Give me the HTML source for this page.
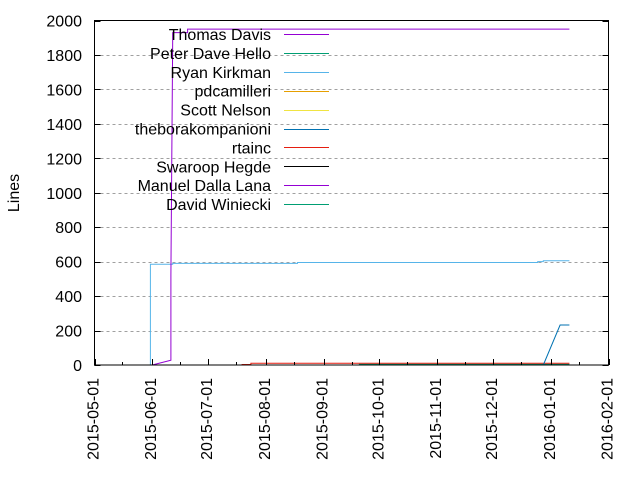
<!DOCTYPE html>
<html><head><meta charset="utf-8"><style>
body{margin:0;background:#fff}
svg{display:block;font-family:"Liberation Sans",sans-serif}
</style></head><body>
<svg id="chart" width="640" height="480" viewBox="0 0 640 480" xmlns="http://www.w3.org/2000/svg">
<g id="grid"></g>
<g id="series"></g>
<rect x="94.5" y="20.5" width="514" height="344.5" fill="none" stroke="#000" stroke-width="1"/>
<g id="axes"></g>
<g id="legend"></g>
<text x="19" y="193" font-size="16" text-anchor="middle" transform="rotate(-90 19 193)">Lines</text>
</svg>
<script>
const yTicks=[0,200,400,600,800,1000,1200,1400,1600,1800,2000];
const xTickLabels=["2015-05-01","2015-06-01","2015-07-01","2015-08-01","2015-09-01","2015-10-01","2015-11-01","2015-12-01","2016-01-01","2016-02-01"];
const seriesNames=["Thomas Davis","Peter Dave Hello","Ryan Kirkman","pdcamilleri","Scott Nelson","theborakompanioni","rtainc","Swaroop Hegde","Manuel Dalla Lana","David Winiecki"];
const seriesColors=["#9400d3","#009e73","#56b4e9","#e69f00","#f0e442","#0072b2","#e51e10","#000000","#9400d3","#009e73"];
const ryanDates=["2015-05-31","2015-05-31","2015-06-12","2015-06-12","2015-08-18","2015-08-18","2015-12-25","2015-12-25","2015-12-28","2015-12-28","2016-01-11"];
const ryanValues=[0,585,585,590,590,595,595,600,600,605,605];
const thomasDates=["2015-06-01","2015-06-11","2015-06-11","2015-06-12","2015-06-12","2015-06-20","2015-06-20","2016-01-11"];
const thomasValues=[0,28,525,1900,1930,1930,1950,1950];
const rtaincDates=["2015-07-19","2015-07-24","2015-07-24","2016-01-11"];
const rtaincValues=[3,3,10,10];
const davidDates=["2015-09-20","2016-01-11"];
const davidValues=[4,4];
const boraDates=["2015-12-28","2016-01-06","2016-01-11"];
const boraValues=[0,232,232];

const X0=94.5,X1=608.5,Y0=365,Y1=20.5;
const D0=Date.UTC(2015,4,1),D1=Date.UTC(2016,1,1);
function dayMs(s){const p=s.split("-");return Date.UTC(+p[0],+p[1]-1,+p[2]);}
function xs(s){return X0+(dayMs(s)-D0)/(D1-D0)*(X1-X0);}
function ys(v){return Y0-(v/2000)*(Y0-Y1);}
const NS="http://www.w3.org/2000/svg";
function mk(tag,attrs,parent){const e=document.createElementNS(NS,tag);for(const k in attrs)e.setAttribute(k,attrs[k]);parent.appendChild(e);return e;}
const grid=document.getElementById("grid"),axes=document.getElementById("axes"),ser=document.getElementById("series"),leg=document.getElementById("legend");
yTicks.forEach(v=>{const y=Math.round(ys(v))+0.5;
 if(v>0&&v<2000){const g=mk("line",{x1:X0,x2:X1,y1:y,y2:y,stroke:"#a0a0a0","stroke-dasharray":"3,3"},grid);
 
 }
 const t1=mk("line",{x1:X0,x2:X0+6,y1:y,y2:y,stroke:"#000"},axes);
 
 
 const t2=mk("line",{x1:X1-6,x2:X1,y1:y,y2:y,stroke:"#000"},axes);
 
 
 const l=mk("text",{x:82,y:ys(v)+6,"font-size":16,"text-anchor":"end"},axes);l.textContent=v;
 
 
});
xTickLabels.forEach((s,i)=>{const x=Math.round(xs(s))+0.5;
 const t=mk("line",{x1:x,x2:x,y1:Y0,y2:Y0-6,stroke:"#000"},axes);
 
 
 if(i<xTickLabels.length-1){const p=s.split("-");const mid=p[0]+"-"+p[1]+"-16";const xm=Math.round(xs(mid))+0.5;
  const m=mk("line",{x1:xm,x2:xm,y1:Y0,y2:Y0-3,stroke:"#000"},axes);
  
  }
 const lx=xs(s)+4,ly=Y0+13;
 const l=mk("text",{x:lx,y:ly,"font-size":16,"text-anchor":"end",transform:`rotate(-90 ${lx} ${ly})`},axes);l.textContent=s;
 
 
});
function line(dates,vals,color,name){const pts=dates.map((d,i)=>xs(d).toFixed(1)+","+ys(vals[i]).toFixed(1)).join(" ");
 const p=mk("polyline",{points:pts,fill:"none",stroke:color,"stroke-width":1},ser);
 
 }
line(davidDates,davidValues,seriesColors[9],"series-david-winiecki");
line(rtaincDates,rtaincValues,seriesColors[6],"series-rtainc");
line(boraDates,boraValues,seriesColors[5],"series-theborakompanioni");
line(ryanDates,ryanValues,seriesColors[2],"series-ryan-kirkman");
line(thomasDates,thomasValues,seriesColors[0],"series-thomas-davis");
seriesNames.forEach((n,i)=>{const y=34+i*18.9;
 const t=mk("text",{x:271,y:y+6,"font-size":16,"text-anchor":"end"},leg);t.textContent=n;
 
 
 const l=mk("line",{x1:284,x2:329,y1:Math.round(y)+0.5,y2:Math.round(y)+0.5,stroke:seriesColors[i]},leg);
 
 
});
</script>
</body></html>
